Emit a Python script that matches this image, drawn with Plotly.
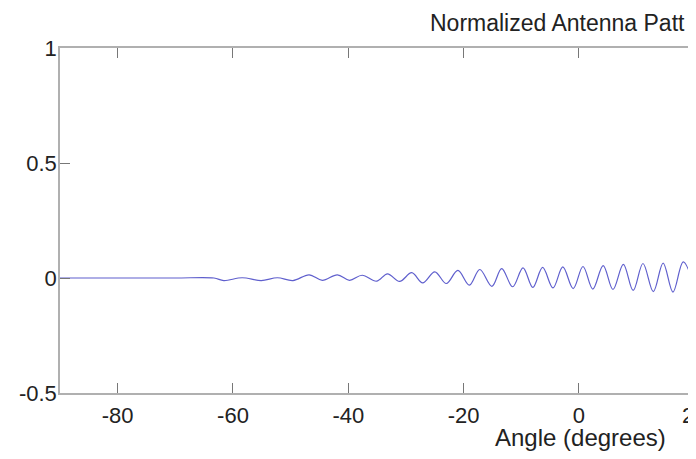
import plotly.graph_objects as go

# Data (angle in degrees, normalized pattern value)
angles = [-90, -80, -70, -63.3, -61.6, -58.4, -55.1, -52.3, -49.6, -46.8, -44.5, -41.9,
          -39.8, -37.6, -35.1, -33.2, -31.1, -29.0, -27.1, -25.0, -23.0, -21.0,
          -19.0, -17.2, -15.1, -13.4, -11.5, -9.7, -8.0, -6.3, -4.5, -2.8,
          -1.0, 0.7, 2.4, 4.2, 5.9, 7.7, 9.4, 11.1, 12.9, 14.6,
          16.3, 18.1, 20.5]
pattern = [0, 0, 0, 0, -0.011, 0.001, -0.011, 0.001, -0.011, 0.014, -0.010, 0.014,
           -0.010, 0.012, -0.014, 0.018, -0.015, 0.023, -0.021, 0.027, -0.024, 0.033,
           -0.031, 0.037, -0.036, 0.041, -0.038, 0.044, -0.041, 0.046, -0.043, 0.048,
           -0.046, 0.050, -0.048, 0.054, -0.050, 0.059, -0.054, 0.063, -0.059, 0.065,
           -0.061, 0.070, -0.088]

x_ticks = [-80, -60, -40, -20, 0, 20]
x_tick_labels = ["-80", "-60", "-40", "-20", "0", "20"]
y_ticks = [-0.5, 0, 0.5, 1]
y_tick_labels = ["-0.5", "0", "0.5", "1"]

title_text = "Normalized Antenna Patt"
xlabel_text = "Angle (degrees)"

FONT = "Liberation Sans, Arial, Helvetica, sans-serif"

fig = go.Figure()
fig.add_trace(go.Scatter(
    x=angles, y=pattern, mode="lines",
    line=dict(color="rgb(95,95,205)", width=1.2, shape="spline", smoothing=1.0),
    showlegend=False, hoverinfo="skip",
))

# page has an 8px body margin, so the figure is offset by 8px right and down
fig.update_layout(
    width=688, height=443,
    margin=dict(l=52, r=0, t=40, b=58, autoexpand=False),
    paper_bgcolor="white", plot_bgcolor="white",
    font=dict(family=FONT, size=22, color="#222"),
    showlegend=False,
)

fig.update_xaxes(
    range=[-90, 20.3], tickvals=x_ticks, ticktext=x_tick_labels,
    showgrid=False, zeroline=False,
    showline=True, linecolor="#b0b0b0", linewidth=1.5, mirror="ticks",
    ticks="inside", ticklen=10, tickcolor="#777", tickwidth=1,
    ticklabeloverflow="allow", ticklabelstandoff=2,
    tickfont=dict(family=FONT, size=22, color="#222"),
)
fig.update_yaxes(
    range=[-0.5, 1], tickvals=y_ticks, ticktext=y_tick_labels,
    showgrid=False, zeroline=False,
    showline=True, linecolor="#b0b0b0", linewidth=1.5, mirror=False,
    ticks="inside", ticklen=10, tickcolor="#777", tickwidth=1,
    ticklabelstandoff=-3,
    tickfont=dict(family=FONT, size=22, color="#222"),
)

fig.add_annotation(
    text=title_text, xref="x", yref="paper", x=-26.2, y=(385 - 15) / 345,
    xanchor="left", yanchor="middle", showarrow=False,
    font=dict(family=FONT, size=23, color="#222"),
)
fig.add_annotation(
    text=xlabel_text, xref="x", yref="paper", x=0.3, y=(385 - 430) / 345,
    xanchor="center", yanchor="middle", showarrow=False,
    font=dict(family=FONT, size=24, color="#222"),
)

fig.write_html("out.html")
